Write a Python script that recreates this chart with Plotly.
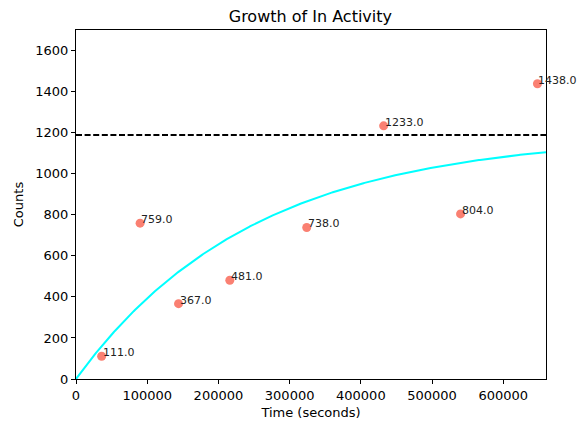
import numpy as np
import plotly.graph_objects as go

# Observed activity counts at each sampling time
time_seconds = [36000, 90000, 144000, 216000, 324000, 432000, 540000, 648000]
counts = [111.0, 759.0, 367.0, 481.0, 738.0, 1233.0, 804.0, 1438.0]

# Saturating growth model: counts = plateau * (1 - exp(-t / tau))
plateau = 1189.0
tau_seconds = 249000.0

x_max = 660000
y_max = 1700

t_model = np.linspace(0, x_max, 400)
y_model = plateau * (1 - np.exp(-t_model / tau_seconds))

font_family = "DejaVu Sans"

fig = go.Figure()

fig.add_trace(go.Scatter(
    x=t_model, y=y_model, mode="lines",
    line=dict(color="#00ffff", width=2),
    hoverinfo="skip", showlegend=False,
))

fig.add_trace(go.Scatter(
    x=[0, x_max], y=[plateau, plateau], mode="lines",
    line=dict(color="black", width=2, dash="6px,2.6px"),
    showlegend=False,
))

fig.add_trace(go.Scatter(
    x=time_seconds, y=counts, mode="markers",
    marker=dict(color="#fa8072", size=9, line=dict(width=0)),
    showlegend=False,
))

for t, c in zip(time_seconds, counts):
    fig.add_annotation(
        x=t, y=c, text=f"{c:.1f}", showarrow=False,
        xanchor="left", yanchor="bottom", borderpad=0, yshift=-4,
        font=dict(family=font_family, size=11, color="#222222"),
    )

axis_common = dict(
    showgrid=False, zeroline=False, automargin=False,
    showline=True, linecolor="black", linewidth=1, mirror=True,
    ticks="outside", ticklen=4, tickcolor="black", tickwidth=1,
    tickfont=dict(family=font_family, size=13, color="black"),
)

fig.update_xaxes(
    range=[0, x_max], tickvals=[0, 100000, 200000, 300000, 400000, 500000, 600000],
    ticktext=["0", "100000", "200000", "300000", "400000", "500000", "600000"],
    title=dict(text="Time (seconds)", font=dict(family=font_family, size=13, color="black"), standoff=6),
    **axis_common,
)
fig.update_yaxes(
    range=[0, y_max], tickvals=[0, 200, 400, 600, 800, 1000, 1200, 1400, 1600],
    title=dict(text="Counts", font=dict(family=font_family, size=13, color="black"), standoff=8),
    **axis_common,
)

fig.update_layout(
    width=578, height=426,
    margin=dict(l=76, r=32, t=30, b=47),
    paper_bgcolor="white", plot_bgcolor="white",
    title=dict(text="Growth of In Activity", x=0.537, xanchor="center", y=0.975, yanchor="top",
               font=dict(family=font_family, size=16, color="black")),
)

fig.write_html("out.html")
